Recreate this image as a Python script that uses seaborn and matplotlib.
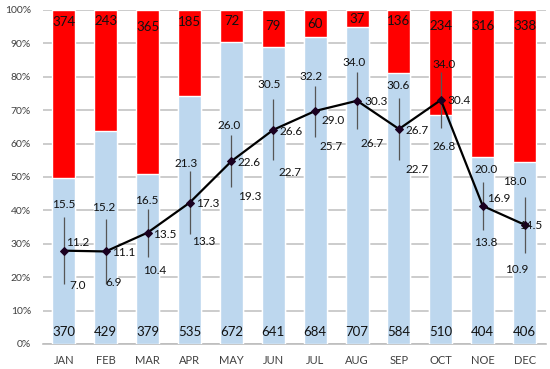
import matplotlib
matplotlib.use("Agg")
import matplotlib.pyplot as plt
import numpy as np
import pandas as pd
import seaborn as sns

# monthly counts and temperatures
months = ["JAN", "FEB", "MAR", "APR", "MAY", "JUN", "JUL", "AUG", "SEP", "OCT", "NOE", "DEC"]
count_blue = [370, 429, 379, 535, 672, 641, 684, 707, 584, 510, 404, 406]
count_red = [374, 243, 365, 185, 72, 79, 60, 37, 136, 234, 316, 338]
t_max = [15.5, 15.2, 16.5, 21.3, 26.0, 30.5, 32.2, 34.0, 30.6, 34.0, 20.0, 18.0]
t_mean = [11.2, 11.1, 13.5, 17.3, 22.6, 26.6, 29.0, 30.3, 26.7, 30.4, 16.9, 14.5]
t_min = [7.0, 6.9, 10.4, 13.3, 19.3, 22.7, 25.7, 26.7, 22.7, 26.8, 13.8, 10.9]

# label nudges in pixels (dx right, dy down), as placed by hand in the original
off_max = [(0, -12), (-2.5, -12), (-0.4, -9), (-3, -8), (-2.4, -8.6), (-3.7, -14.3),
           (-3.8, -9.2), (-2.8, -9.5), (-0.4, -12.5), (3.6, -7.5), (3.5, -12.4), (-9.5, -15.7)]
off_mean = [(13.7, -8), (18.4, 1), (17.6, 1.6), (17.8, 1), (17.8, 1.4), (18.3, 1.8),
            (18.2, 9.7), (18.9, 0.9), (18.4, 1.6), (18.3, 0.7), (15.5, -7), (5.9, 1.2)]
off_min = [(13.7, 2.3), (7.7, -2), (6.6, 13.7), (14.4, 7.4), (18.1, 9.5), (16.7, 12.2),
           (16.2, 9.8), (14.6, 14.2), (18.4, 9.5), (2.8, 18.4), (2.7, 12), (-8.3, 16.2)]
off_red = [0, -0.4, 5, 0, -0.4, 4, 2.1, -3, -0.9, 4.5, 4.5, 4.5]

df = pd.DataFrame({"month": months, "blue": count_blue, "red": count_red,
                   "tmax": t_max, "tmean": t_mean, "tmin": t_min})
df["total"] = df["blue"] + df["red"]
df["share"] = df["blue"] / df["total"]
df["full"] = 1.0
df["pos"] = np.arange(len(df))

sns.set_style("white")
plt.rcParams["font.family"] = ["Lato", "DejaVu Sans"]
txt = "#111111"
px = 0.72  # points per pixel at dpi 100

fig = plt.figure(figsize=(5.5, 3.69), dpi=100)
ax = fig.add_axes([0.078, 0.068, 0.914, 0.905])

# stacked 100% bars: red full height, blue share drawn over it
sns.barplot(data=df, x="month", y="full", color="#FF0000", width=0.55,
            saturation=1, ax=ax, zorder=2)
sns.barplot(data=df, x="month", y="share", color="#BDD7EE", width=0.55,
            saturation=1, ax=ax, zorder=3)

ax.set_ylim(0, 1)
ax.set_xlim(-0.5, 11.5)
ax.set_yticks(np.arange(0, 1.01, 0.1))
ax.set_yticklabels([f"{int(round(v * 100))}%" for v in np.arange(0, 1.01, 0.1)])
ax.yaxis.grid(True, color="#c4c4c4", lw=1.2, zorder=0)
ax.set_axisbelow(True)
ax.set_xlabel("")
ax.set_ylabel("")
for s in ["top", "right", "left"]:
    ax.spines[s].set_visible(False)
ax.spines["bottom"].set_color("#bdbdbd")
ax.spines["bottom"].set_linewidth(1.2)
ax.tick_params(axis="y", length=0, labelsize=7.5, colors="#404040", pad=8.5)
ax.tick_params(axis="x", length=0, labelsize=8, colors="#404040", pad=8)

for i, r in df.iterrows():
    ax.text(r["pos"], 0.037, str(r["blue"]), ha="center", va="center",
            fontsize=9.5, color=txt, zorder=5)
    ax.annotate(str(r["red"]), (r["pos"], 0.965), xytext=(0, -off_red[i] * px),
                textcoords="offset points", ha="center", va="center",
                fontsize=9.5, color=txt, zorder=5)

# temperature line on a hidden second scale
ax2 = ax.twinx()
ax2.set_ylim(-0.68, 41.87)
ax2.vlines(df["pos"], df["tmin"], df["tmax"], color="#555555", lw=0.9, zorder=4)
sns.lineplot(data=df, x="pos", y="tmean", color="black", lw=1.6, marker="D",
             markersize=4, markerfacecolor="#1a0020", markeredgecolor="#1a0020",
             ax=ax2, zorder=5)
ax2.set_axis_off()

for i, r in df.iterrows():
    for col, off in (("tmax", off_max[i]), ("tmean", off_mean[i]), ("tmin", off_min[i])):
        ax2.annotate(f"{r[col]:.1f}", (r["pos"], r[col]),
                     xytext=(off[0] * px, -off[1] * px), textcoords="offset points",
                     ha="center", va="center", fontsize=8.5, color=txt, zorder=6)

plt.savefig("out.png", dpi=100)
